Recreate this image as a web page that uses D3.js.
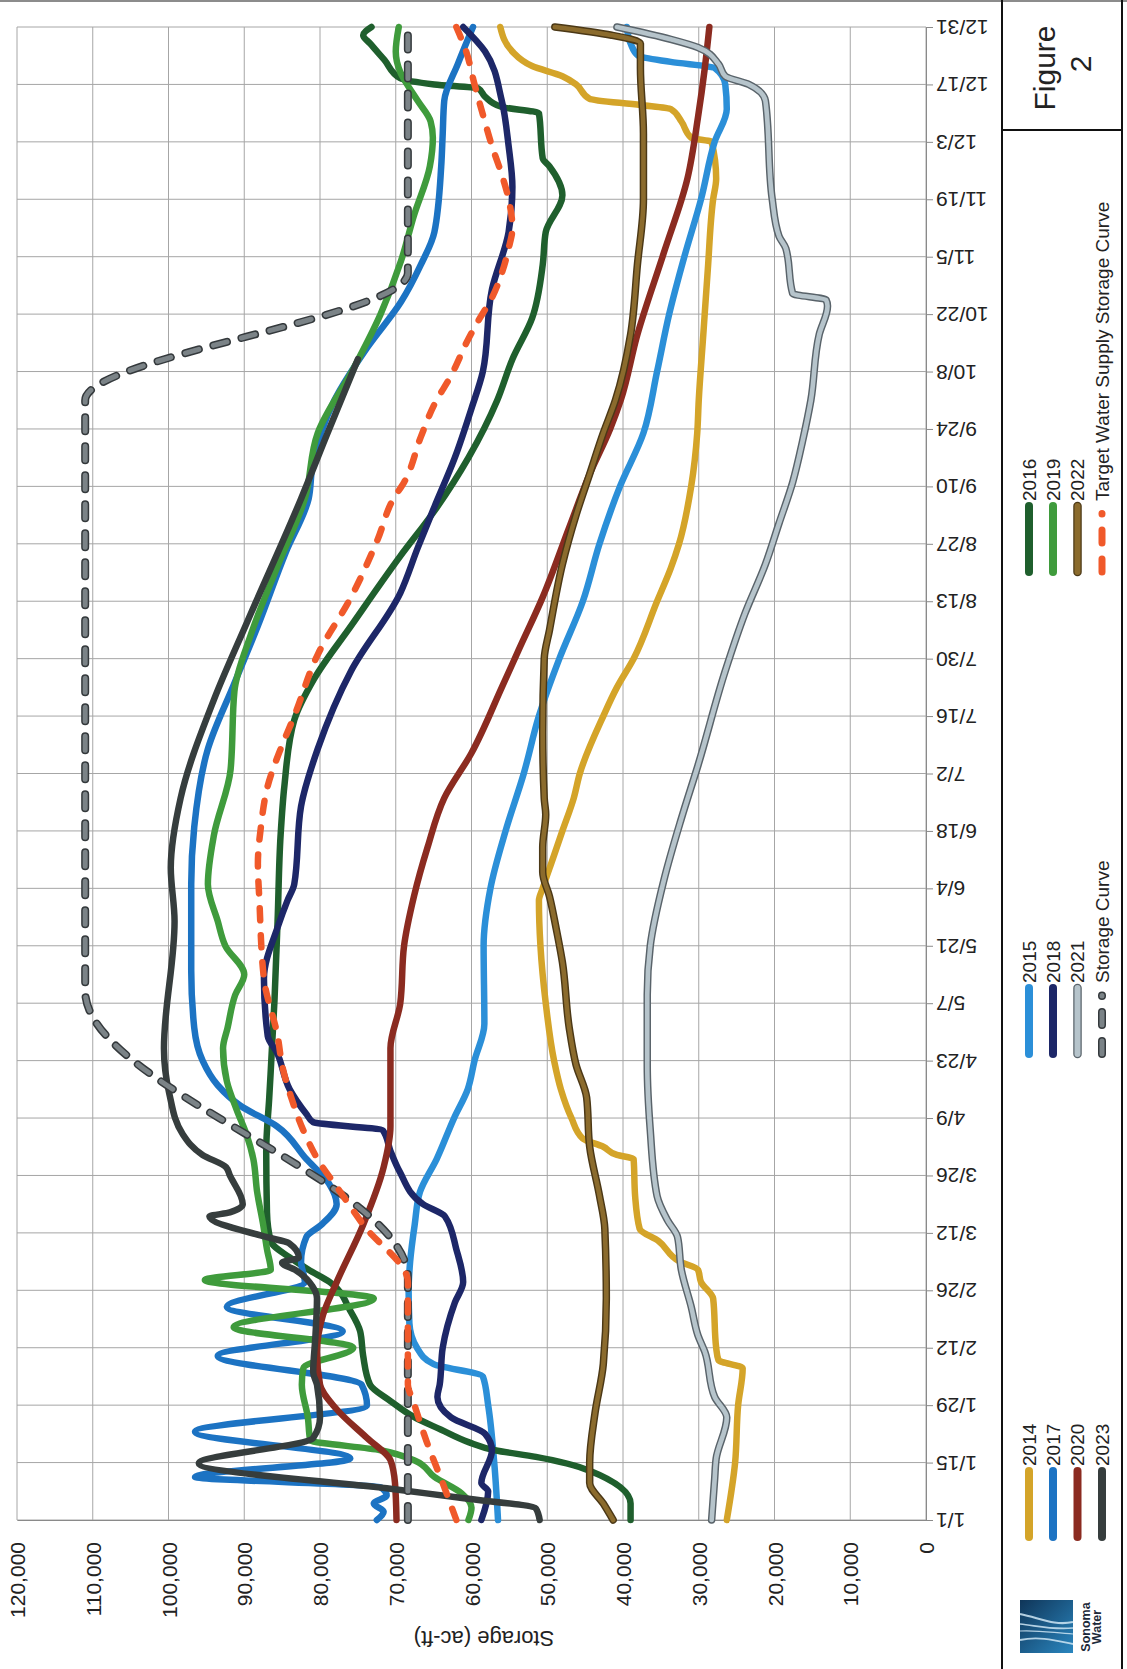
<!DOCTYPE html>
<html>
<head>
<meta charset="utf-8">
<script src="https://cdn.jsdelivr.net/npm/d3@7"></script>
<style>
  body { margin: 0; background: #fff; }
  svg { display: block; font-family: "Liberation Sans", Arial, sans-serif; }
</style>
</head>
<body>
<svg width="1127" height="1669"></svg>
<script>
// tick labels (every 14 days from 1/1)
const dateLabels = ["1/1","1/15","1/29","2/12","2/26","3/12","3/26","4/9","4/23","5/7","5/21","6/4","6/18",
                    "7/2","7/16","7/30","8/13","8/27","9/10","9/24","10/8","10/22","11/5","11/19","12/3","12/17","12/31"];
const storageTicks = d3.range(0, 120001, 10000);

const seriesNames = ["2014","2015","2016","2017","2018","2019","2020","2021","2022","2023",
                     "Storage Curve","Target Water Supply Storage Curve"];

// [day of year (0 = 1/1), storage ac-ft]
const s2014 = [[0,26300],[14,25200],[28,24800],[37,24200],[39,27400],[42,27700],[54,28100],[58,29700],[61,30100],
  [63,32500],[68,35300],[71,37800],[79,38400],[88,38600],[89,40800],[91,42600],[93,45300],[98,46800],[105,48200],
  [112,49100],[126,50200],[140,50900],[151,51100],[154,50600],[161,49300],[168,48000],[176,46500],[182,45700],
  [196,42600],[203,40800],[210,38600],[224,35500],[232,33700],[238,32600],[252,31000],[265,30200],[273,30000],
  [289,29400],[305,28800],[322,28100],[327,27700],[336,28300],[337,31000],[341,32300],[344,33700],[345,37700],
  [346.5,44400],[350,46200],[352,48000],[354.5,52000],[358,54600],[364,56200]];
const s2015 = [[0,56500],[14,57000],[28,57800],[35,58500],[38,65000],[42,67200],[48,68200],[56,68300],[63,68100],
  [72,67500],[80,66800],[88,64600],[98,62300],[105,60500],[112,59600],[121,58300],[140,58400],[154,57500],
  [168,55500],[182,53100],[196,51100],[210,48400],[224,45300],[238,43100],[252,40400],[265,37300],[280,35500],
  [294,33900],[308,31900],[322,29700],[336,27900],[344,26300],[350,26500],[354,27900],[355.5,33700],[357,38000],
  [360,39000],[364,39500]];
const s2016 = [[0,39000],[4,39000],[12,44400],[15.4,51500],[17,56900],[19,60400],[22,64000],[25,67500],[29,70700],
  [33,73400],[40,74300],[46,74700],[51,76000],[58,78700],[61,81500],[64,84000],[68,86500],[75,87000],[90,87100],
  [103,86700],[127,86000],[146,85600],[167,85200],[179,84700],[195,83400],[205,80800],[218,75900],[235,69400],
  [246,64900],[259,60400],[273,56600],[283,54600],[293,52000],[306,50600],[314,50200],[323,48000],[330,49700],
  [332,50600],[343,51100],[344.5,56000],[347,58200],[349,59100],[350,64900],[351.5,69400],[356,71500],
  [360,73400],[362,74300],[364,73200]];
const s2017 = [[0,72500],[2,71600],[4,72900],[6,71200],[8,72000],[10.5,96500],[15,76000],[21.5,96500],[28,73800],
  [33,74500],[40,93500],[46,77000],[52,92300],[58,82000],[63,82500],[69,81800],[72,79800],[77,77800],[82,78800],
  [88,81800],[96,85700],[101,90500],[106,93500],[112,95500],[120,96600],[134,97000],[155,97000],[169,96600],
  [188,94800],[204,91300],[218,88200],[236,84500],[249,81500],[257,81000],[273,78100],[286,73700],[297,69300],
  [306,66700],[314,64900],[330,64000],[338,63800],[346,63600],[355,61800],[364,59800]];
const s2018 = [[0,58700],[7,57800],[9,58700],[17,57300],[21,58200],[25,62700],[30,64500],[33,64200],[42,63800],
  [53,62200],[58,61100],[66,62000],[74,63500],[77,66400],[85,69500],[90,70700],[95,71700],[97,80900],[99,81800],
  [105,84000],[114,85700],[118,86900],[132,87400],[145,85500],[151,84300],[155,83400],[174,82500],[188,80300],
  [207,75900],[226,69400],[237,67100],[247,64900],[259,62200],[271,60000],[280,58500],[300,57300],[314,55100],
  [325,54600],[335,55100],[346,56000],[358,58200],[364,61100]];
const s2019 = [[0,60400],[3,60000],[6.5,61300],[10.5,64900],[14.5,67500],[17,72000],[19.5,81300],[25,81600],
  [33,82400],[37,82200],[42,75600],[47,91400],[54,72900],[58.5,95200],[61,86500],[66,87000],[72,87500],[80,88300],
  [88,88800],[94,89700],[100,91000],[107,92300],[115,92800],[120,92200],[128,91200],[133,90000],[140,92500],
  [146,93500],[155,94800],[167,94000],[183,91800],[202,91300],[216,89100],[233,85500],[249,82000],[265,80300],
  [281,75500],[294,72000],[307,69300],[318,67600],[330,65500],[337,65100],[341,65400],[346,67100],[350,68500],
  [353,69400],[358,70000],[364,69600]];
const s2020 = [[0,69900],[9,70100],[14.6,70700],[20,73800],[27,77800],[33,80000],[41,80400],[50,79600],[58,77800],
  [72,74300],[86,71600],[96,70700],[115,70700],[126,69400],[140,68900],[152,67600],[164,65800],[176,63600],
  [187,60000],[203,56000],[212,53800],[225,50600],[242,47100],[255,44400],[266,41700],[273,40300],[289,38100],
  [309,34600],[327,31500],[342,30100],[354,29200],[364,28600]];
const s2021 = [[0,28300],[10,27900],[15,27700],[25,26300],[30,27900],[41,29200],[45,30100],[52,31000],[61,32300],
  [69,32800],[73,34100],[79,35500],[95,36400],[111,36800],[128,36800],[140,36400],[156,34600],[171,32300],
  [184,30100],[207,26500],[221,23900],[233,21200],[243,19400],[253,17600],[263,16300],[273,15200],[289,14100],
  [296,13000],[297.5,13200],[299,17600],[310,18500],[313,19400],[322,20300],[346,21200],[350,23400],[352,26500],
  [355,27400],[359,30100],[361,33700],[364,40800]];
const s2022 = [[0,41300],[4,42600],[9,44400],[14,44400],[26,43700],[38,42600],[54,42200],[71,42400],[79,43100],
  [91,44400],[103,44800],[111,46200],[120,47100],[136,48000],[144,48800],[152,49700],[158,50600],[164,50600],
  [172,50200],[176,50400],[192,50600],[210,50400],[217,49700],[233,48000],[245,46200],[255,44400],[265,42600],
  [273,41000],[289,39000],[306,38100],[322,37300],[338,37300],[354,37700],[360,37700],[362,41500],[364,49000]];
const s2023 = [[0,51000],[2.8,51500],[5.3,61000],[7.3,69400],[13.8,96000],[20,80900],[25,80000],[33,80400],
  [36,80900],[45,80600],[54,80400],[57,81000],[61,83300],[62.7,85000],[64,82800],[67.5,84100],[69,87100],
  [74,94600],[75,91900],[77,90200],[84,91900],[86,92400],[89,95500],[94,98100],[104,99900],[115,100600],
  [146,99200],[159,99700],[176,98400],[200,94000],[219,89600],[249,82500],[265,79000],[283,75000]];
const storageCurve = [[0,68400],[59,68400],[129,111000],[273,111000],[304,68400],[364,68400]];
const targetCurve = [[0,62000],[9,63800],[19,65900],[29,67700],[33,68400],[58,68400],[72,74300],[81,77700],
  [87,80000],[95,82200],[103,83800],[110,84900],[118,85600],[132,87400],[151,88000],[160,88200],[169,87800],
  [179,86900],[188,85200],[196,83400],[211,80300],[225,75900],[239,72400],[249,70300],[253,68900],[264,66700],
  [272,64900],[279,62700],[288,60400],[293,58900],[298,57300],[304,56000],[310,55100],[315,54600],[322,55100],
  [328,56000],[335,57300],[342,58400],[350,59600],[358,60700],[364,62000]];

const seriesData = [s2014, s2015, s2016, s2017, s2018, s2019, s2020, s2021, s2022, s2023, storageCurve, targetCurve];

// styles
const lineColor = {
  "2014": "#d4a429", "2015": "#2b8fd8", "2016": "#1f5f2d", "2017": "#1c73c3", "2018": "#1d2768",
  "2019": "#3f9b3c", "2020": "#8b2b20", "2021": "#b6c4cb", "2022": "#8b6b2d", "2023": "#363d3d",
  "Storage Curve": "#7b8387", "Target Water Supply Storage Curve": "#f0592a"
};
const outlineColor = { "2021": "#59636a", "2022": "#4b3816", "Storage Curve": "#34393c" };

const chart = d3.select("svg");
const PLOT = { left: 17, right: 926, top: 27, bottom: 1520 };

const xScale = d3.scaleLinear().domain([0, 120000]).range([PLOT.right, PLOT.left]);
const yScale = d3.scaleLinear().domain([0, 364]).range([PLOT.bottom, PLOT.top]);
const dateDays = dateLabels.map((d, i) => i * 14);

chart.append("rect").attr("width", 1127).attr("height", 1669).attr("fill", "#fff");
chart.append("rect").attr("width", 1127).attr("height", 2).attr("fill", "#8c8c8c");

// grid
const grid = chart.append("g").attr("stroke", "#a6a6a6").attr("stroke-width", 1);
grid.selectAll(".gv").data(storageTicks).enter().append("line")
    .attr("x1", d => xScale(d)).attr("x2", d => xScale(d))
    .attr("y1", PLOT.top).attr("y2", PLOT.bottom);
grid.selectAll(".gh").data(dateDays).enter().append("line")
    .attr("x1", PLOT.left).attr("x2", PLOT.right)
    .attr("y1", d => yScale(d)).attr("y2", d => yScale(d));

// date axis (runs down the right side, labels upside down)
const dateAxis = chart.append("g")
    .attr("transform", `translate(${PLOT.right},0)`)
    .call(d3.axisRight(yScale).tickValues(dateDays).tickFormat((d, i) => dateLabels[i]).tickSize(7).tickSizeOuter(0));
dateAxis.select(".domain").attr("stroke", "#8a8a8a");
dateAxis.selectAll(".tick line").attr("stroke", "#8a8a8a");
dateAxis.selectAll("text")
    .attr("x", null).attr("dy", null)
    .attr("transform", "translate(10,0) rotate(180)")
    .attr("text-anchor", "end")
    .attr("dominant-baseline", "central")
    .attr("font-size", 21)
    .attr("font-family", "Liberation Sans, Arial, sans-serif")
    .attr("fill", "#222");

// storage axis (along the bottom, labels reading upward)
const valueAxis = chart.append("g")
    .attr("transform", `translate(0,${PLOT.bottom})`)
    .call(d3.axisBottom(xScale).tickValues(storageTicks).tickFormat(d3.format(",")).tickSize(0).tickSizeOuter(0));
valueAxis.select(".domain").attr("stroke", "#8a8a8a");
valueAxis.selectAll("text")
    .attr("y", null).attr("dy", null)
    .attr("transform", "translate(0,22) rotate(-90)")
    .attr("text-anchor", "end")
    .attr("dominant-baseline", "central")
    .attr("font-size", 21)
    .attr("font-family", "Liberation Sans, Arial, sans-serif")
    .attr("fill", "#222");

chart.append("text")
    .attr("transform", "translate(484,1638) rotate(180)")
    .attr("text-anchor", "middle").attr("dominant-baseline", "central")
    .attr("font-size", 22).attr("fill", "#222")
    .text("Storage (ac-ft)");

// series
const genLine = d3.line()
    .x(d => xScale(d[1]))
    .y(d => yScale(d[0]))
    .curve(d3.curveMonotoneY);

const lines = chart.append("g").attr("fill", "none").attr("stroke-linejoin", "round");
seriesNames.forEach((name, i) => {
  const path = genLine(seriesData[i]);
  if (name === "Storage Curve") {
    lines.append("path").attr("d", path).attr("stroke", outlineColor[name]).attr("stroke-width", 8)
         .attr("stroke-dasharray", "14,15").attr("stroke-linecap", "round");
    lines.append("path").attr("d", path).attr("stroke", lineColor[name]).attr("stroke-width", 5)
         .attr("stroke-dasharray", "14,15").attr("stroke-linecap", "round");
  } else if (name.startsWith("Target")) {
    lines.append("path").attr("d", path).attr("stroke", lineColor[name]).attr("stroke-width", 6.5)
         .attr("stroke-dasharray", "12,15").attr("stroke-linecap", "round");
  } else if (outlineColor[name]) {
    lines.append("path").attr("d", path).attr("stroke", outlineColor[name]).attr("stroke-width", 7.5)
         .attr("stroke-linecap", "round");
    lines.append("path").attr("d", path).attr("stroke", lineColor[name]).attr("stroke-width", 4.6)
         .attr("stroke-linecap", "round");
  } else {
    lines.append("path").attr("d", path).attr("stroke", lineColor[name]).attr("stroke-width", 6.5)
         .attr("stroke-linecap", "round");
  }
});

// legend panel
const panel = chart.append("g");
panel.append("line").attr("x1", 1002).attr("x2", 1002).attr("y1", 0).attr("y2", 1669)
     .attr("stroke", "#111").attr("stroke-width", 2);
panel.append("line").attr("x1", 1122).attr("x2", 1122).attr("y1", 0).attr("y2", 1669)
     .attr("stroke", "#111").attr("stroke-width", 2);
panel.append("line").attr("x1", 1002).attr("x2", 1122).attr("y1", 130).attr("y2", 130)
     .attr("stroke", "#111").attr("stroke-width", 2);

panel.append("text").attr("transform", "translate(1044,68) rotate(-90)")
     .attr("text-anchor", "middle").attr("dominant-baseline", "central")
     .attr("font-size", 30).attr("fill", "#222").text("Figure");
panel.append("text").attr("transform", "translate(1080,64) rotate(-90)")
     .attr("text-anchor", "middle").attr("dominant-baseline", "central")
     .attr("font-size", 30).attr("fill", "#222").text("2");

const legendBottoms = [1537, 1054, 572];
const legendCols = [1029, 1053, 1077.5, 1102];
seriesNames.forEach((name, i) => {
  const x = legendCols[Math.floor(i / 3)];
  const yb = legendBottoms[i % 3];
  const item = panel.append("g");
  if (name === "Storage Curve") {
    [[outlineColor[name], 8], [lineColor[name], 5]].forEach(([c, w]) => {
      item.append("line").attr("x1", x).attr("x2", x).attr("y1", yb).attr("y2", yb - 62)
          .attr("stroke", c).attr("stroke-width", w).attr("stroke-linecap", "round")
          .attr("stroke-dasharray", "13,16,13,16,0.5,100");
    });
  } else if (name.startsWith("Target")) {
    item.append("line").attr("x1", x).attr("x2", x).attr("y1", yb).attr("y2", yb - 62)
        .attr("stroke", lineColor[name]).attr("stroke-width", 7).attr("stroke-linecap", "round")
        .attr("stroke-dasharray", "13,16,13,16,0.5,100");
  } else {
    if (outlineColor[name]) {
      item.append("line").attr("x1", x).attr("x2", x).attr("y1", yb).attr("y2", yb - 66)
          .attr("stroke", outlineColor[name]).attr("stroke-width", 8.5).attr("stroke-linecap", "round");
    }
    item.append("line").attr("x1", x).attr("x2", x).attr("y1", yb).attr("y2", yb - 66)
        .attr("stroke", lineColor[name]).attr("stroke-width", outlineColor[name] ? 6 : 8).attr("stroke-linecap", "round");
  }
  item.append("text").attr("transform", `translate(${x},${yb - 71}) rotate(-90)`)
      .attr("text-anchor", "start").attr("dominant-baseline", "central")
      .attr("font-size", 19).attr("fill", "#222").text(name);
});

// logo
const logo = panel.append("g").attr("transform", "translate(1020,1600)");
const grad = chart.append("defs").append("linearGradient").attr("id", "logoGrad")
    .attr("x1", 0).attr("y1", 0).attr("x2", 1).attr("y2", 1);
grad.append("stop").attr("offset", 0).attr("stop-color", "#0f3558");
grad.append("stop").attr("offset", 1).attr("stop-color", "#2a86bf");
logo.append("rect").attr("width", 53).attr("height", 53).attr("fill", "url(#logoGrad)");
[["M0,14 C20,18 34,26 53,22", 2.2], ["M0,24 C18,26 32,30 53,28", 1.6], ["M0,31 C20,30 34,33 53,34", 1.2],
 ["M0,40 C18,36 34,40 53,44", 1.8]].forEach(([p, w]) => {
  logo.append("path").attr("d", p).attr("fill", "none").attr("stroke", "#cfe6f5")
      .attr("stroke-width", w).attr("opacity", 0.85);
});
panel.append("text").attr("transform", "translate(1086,1627) rotate(-90)")
     .attr("text-anchor", "middle").attr("dominant-baseline", "central")
     .attr("font-size", 12.5).attr("font-weight", "bold").attr("fill", "#1d2a3a").text("Sonoma");
panel.append("text").attr("transform", "translate(1097,1627) rotate(-90)")
     .attr("text-anchor", "middle").attr("dominant-baseline", "central")
     .attr("font-size", 12.5).attr("font-weight", "bold").attr("fill", "#1d2a3a").text("Water");
</script>
</body>
</html>
